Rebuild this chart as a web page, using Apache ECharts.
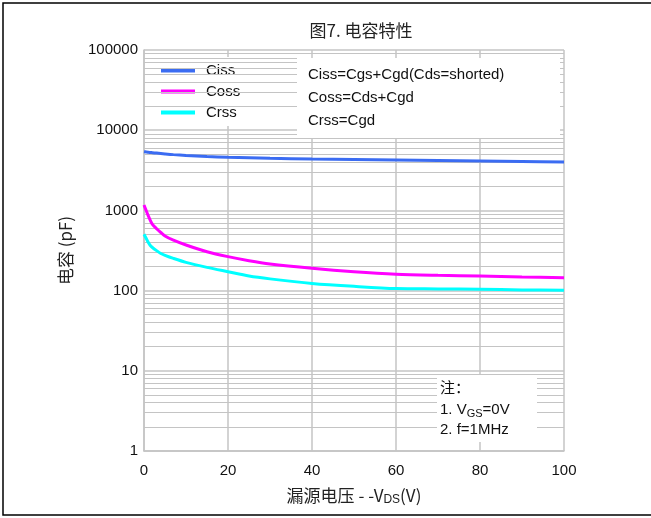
<!DOCTYPE html>
<html>
<head>
<meta charset="utf-8">
<script src="https://cdn.jsdelivr.net/npm/echarts@6/dist/echarts.min.js"></script>
<style>html,body{margin:0;padding:0;background:#fff}#c{width:651px;height:518px}</style>
</head>
<body>
<div id="c"></div>
<script>
var vds = [0, 0.5, 1, 1.5, 2, 3, 4, 5, 7, 10, 15, 20, 25, 30, 40, 50, 60, 70, 80, 90, 100];
var ciss = [5400, 5350, 5300, 5270, 5240, 5180, 5120, 5060, 4960, 4850, 4700, 4590, 4520, 4460, 4375, 4310, 4250, 4190, 4130, 4070, 4010];
var coss = [1170, 1000, 860, 750, 670, 590, 530, 480, 425, 370, 305, 265, 236, 215, 190, 172, 160, 155, 152, 148, 145];
var crss = [505, 450, 400, 365, 345, 315, 290, 275, 252, 225, 195, 172, 152, 140, 123, 113, 106, 105, 104, 102, 101];
var yTicks = [1, 10, 100, 1000, 10000, 100000];
var xTicks = [0, 20, 40, 60, 80, 100];
var minorMult = [2, 3, 4, 5, 6, 7, 8, 9];

function pairs(ys) { return vds.map(function (x, i) { return [x, ys[i]]; }); }
var minorLines = [];
for (var k = 0; k < yTicks.length - 1; k++) {
  minorMult.forEach(function (m) { minorLines.push({ yAxis: m * yTicks[k] }); });
}
var gridColor = '#c4c4c4';
var font = 'Liberation Sans, Arial, sans-serif';
var cjk = 'Noto Sans CJK SC, sans-serif';

var chart = echarts.init(document.getElementById('c'), null, { renderer: 'canvas' });
chart.setOption({
  animation: false,
  backgroundColor: '#fff',
  title: {
    text: '图7. 电容特性', left: 356, top: 17, textAlign: 'center',
    textStyle: { fontFamily: cjk, fontSize: 17, fontWeight: 'normal', color: '#222' }
  },
  grid: { left: 144, right: 87, top: 50, bottom: 67, containLabel: false },
  legend: {
    orient: 'vertical', left: 145, top: 57,
    backgroundColor: '#fff',
    padding: [6, 17, 6, 16],
    icon: 'rect',
    itemWidth: 34, itemHeight: 4, itemGap: 6,
    textStyle: { fontFamily: font, fontSize: 15, color: '#111', lineHeight: 15, padding: [0, 0, 0, 6] },
    data: ['Ciss', 'Coss', 'Crss']
  },
  xAxis: {
    type: 'value', min: 0, max: 100, interval: 20,
    name: '漏源电压 - -V{s|DS}(V)', nameLocation: 'middle', nameGap: 35,
    nameTextStyle: { fontFamily: cjk, fontSize: 17, color: '#222',
      rich: { s: { fontFamily: font, fontSize: 12, verticalAlign: 'bottom', padding: [8, 0, 0, 0], color: '#222' } } },
    axisLine: { lineStyle: { color: gridColor, width: 1.5 } },
    axisTick: { show: false },
    axisLabel: { fontFamily: font, fontSize: 15, color: '#111', margin: 12 },
    splitLine: { show: true, lineStyle: { color: gridColor, width: 1.5 } }
  },
  yAxis: {
    type: 'log', logBase: 10, min: 1, max: 100000,
    name: '电容 (pF)', nameLocation: 'middle', nameGap: 70, nameRotate: 90,
    nameTextStyle: { fontFamily: cjk, fontSize: 17, color: '#222' },
    axisLine: { show: true, lineStyle: { color: gridColor, width: 1.5 } },
    axisTick: { show: false },
    axisLabel: { fontFamily: font, fontSize: 15, color: '#111', margin: 6,
      formatter: function (v) { return String(Math.round(v)); } },
    splitLine: { show: true, lineStyle: { color: gridColor, width: 1.5 } }
  },
  series: [
    {
      name: 'grid', type: 'line', data: [], silent: true, z: 1,
      markLine: { silent: true, symbol: 'none', label: { show: false },
        lineStyle: { color: gridColor, width: 1.2, type: 'solid' }, data: minorLines, animation: false }
    },
    { name: 'Ciss', type: 'line', smooth: 0.3, symbol: 'none', data: pairs(ciss), z: 5,
      lineStyle: { color: '#3b6cf2', width: 3 }, itemStyle: { color: '#3b6cf2' } },
    { name: 'Coss', type: 'line', smooth: 0.3, symbol: 'none', data: pairs(coss), z: 5,
      lineStyle: { color: '#ff00ff', width: 3 }, itemStyle: { color: '#ff00ff' } },
    { name: 'Crss', type: 'line', smooth: 0.3, symbol: 'none', data: pairs(crss), z: 5,
      lineStyle: { color: '#00ffff', width: 3 }, itemStyle: { color: '#00ffff' } }
  ],
  graphic: [
    { type: 'rect', shape: { x: 3, y: 3, width: 700, height: 512 }, style: { fill: 'none', stroke: '#000', lineWidth: 1.5 }, z: 0, silent: true },
    { type: 'rect', shape: { x: 297, y: 58, width: 263, height: 80 }, style: { fill: '#fff' }, z: 10 },
    { type: 'text', x: 308, y: 67, z: 11, style: { text: 'Ciss=Cgs+Cgd(Cds=shorted)', font: '15px Liberation Sans, Arial', fill: '#111' } },
    { type: 'text', x: 308, y: 90, z: 11, style: { text: 'Coss=Cds+Cgd', font: '15px Liberation Sans, Arial', fill: '#111' } },
    { type: 'text', x: 308, y: 113, z: 11, style: { text: 'Crss=Cgd', font: '15px Liberation Sans, Arial', fill: '#111' } },
    { type: 'rect', shape: { x: 437, y: 375, width: 100, height: 67 }, style: { fill: '#fff' }, z: 10 },
    { type: 'text', x: 440, y: 380, z: 11, style: { text: '注：', font: '15px Noto Sans CJK SC', fill: '#111' } },
    { type: 'text', x: 440, y: 401, z: 11, style: {
      text: '1. V{s|GS}=0V', font: '15px Liberation Sans, Arial', fill: '#111',
      rich: { s: { fontSize: 11, fontFamily: 'Liberation Sans, Arial', padding: [7, 0, 0, 0], fill: '#111' } } } },
    { type: 'text', x: 440, y: 422, z: 11, style: { text: '2. f=1MHz', font: '15px Liberation Sans, Arial', fill: '#111' } }
  ]
});
</script>
</body>
</html>
